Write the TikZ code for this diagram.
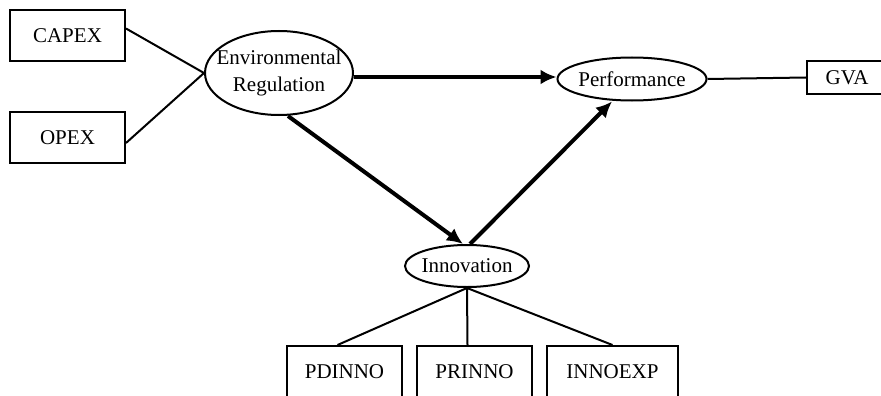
\documentclass[tikz,border=0pt]{standalone}
\usepackage{fontspec}
\setmainfont{Liberation Serif}
\usetikzlibrary{shapes.geometric,arrows.meta}
\begin{document}
\begin{tikzpicture}[x=1pt,y=-1pt,
  txt/.style={font=\fontsize{21}{26.5}\selectfont},
  obsbox/.style={draw,line width=2pt,rectangle,inner sep=0pt,txt},
  latent/.style={draw,line width=2pt,ellipse,inner sep=0pt},
  ltext/.style={txt,align=center,inner sep=0pt},
  thinline/.style={line width=2pt},
  path/.style={line width=4pt,-{Latex[length=16pt,width=15pt]}}]
\useasboundingbox[fill=white] (0,0) rectangle (881,396);
% observed indicators
\node[obsbox,minimum width=115pt,minimum height=51pt] (capex) at (67.5,35.5) {CAPEX};
\node[obsbox,minimum width=115pt,minimum height=51pt] (opex) at (67.5,137.5) {OPEX};
\node[obsbox,minimum width=80pt,minimum height=33pt] (gva) at (847,77.5) {GVA};
\node[obsbox,minimum width=115pt,minimum height=52pt] (pd) at (344.5,372) {PDINNO};
\node[obsbox,minimum width=115pt,minimum height=52pt] (pr) at (474.5,372) {PRINNO};
\node[obsbox,minimum width=131pt,minimum height=52pt] (ie) at (612.5,372) {INNOEXP};
% latent constructs
\node[latent,minimum width=148pt,minimum height=84pt] (env) at (279,73) {};
\node[ltext] (envt) at (env) {Environmental\\Regulation};
\node[latent,minimum width=149pt,minimum height=43pt] (perf) at (632,79) {};
\node[ltext] (perft) at (perf) {Performance};
\node[latent,minimum width=124pt,minimum height=42pt] (innov) at (467,266) {};
\node[ltext] (innovt) at (innov) {Innovation};
% measurement links
\draw[thinline] ([yshift=7pt]capex.east) -- (env.west);
\draw[thinline] ([yshift=-5.5pt]opex.east) -- (env.west);
\draw[thinline] (perf.east) -- (gva.west);
\draw[thinline] (innov.south) -- ([xshift=-7pt]pd.north);
\draw[thinline] (innov.south) -- ([xshift=-7pt]pr.north);
\draw[thinline] (innov.south) -- (ie.north);
% structural paths
\draw[path] ([yshift=-4pt]env.east) -- ([yshift=2pt]perf.west);
\draw[path] ([xshift=9pt]env.south) -- ([xshift=-4pt]innov.north);
\draw[path] ([xshift=3pt]innov.north) -- ([xshift=-20pt]perf.south);
\end{tikzpicture}
\end{document}
